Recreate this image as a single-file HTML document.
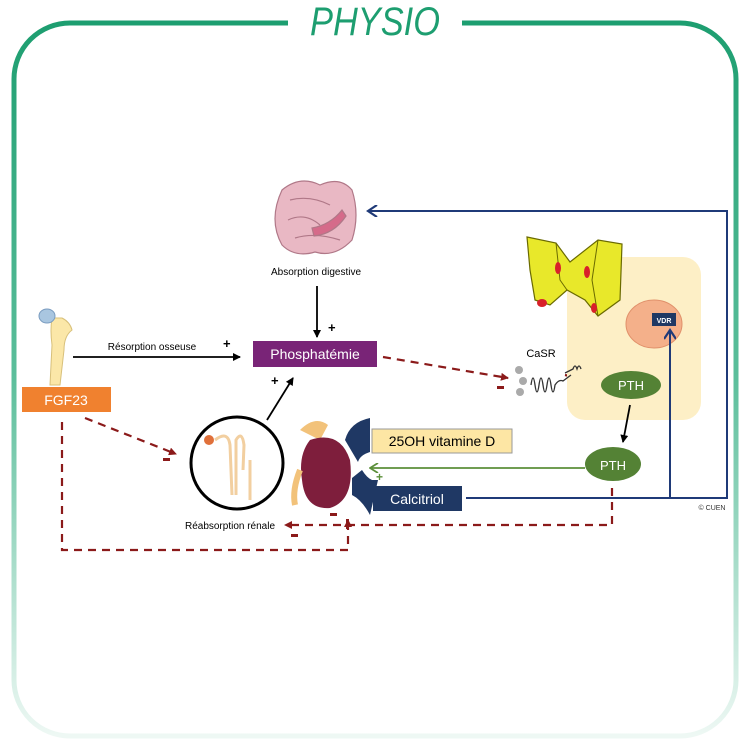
<!DOCTYPE html>
<html><head><meta charset="utf-8"><style>
html,body{margin:0;padding:0;background:#fff;}
svg{display:block;font-family:"Liberation Sans",sans-serif;}
</style></head><body>
<svg width="750" height="750" viewBox="0 0 750 750" xmlns="http://www.w3.org/2000/svg">
<defs>
<linearGradient id="fr" x1="0" y1="0" x2="0" y2="1" gradientUnits="objectBoundingBox">
<stop offset="0" stop-color="#1d9e70"/><stop offset="0.5" stop-color="#5cbf9c"/><stop offset="1" stop-color="#eef8f4"/>
</linearGradient>
<marker id="ak" markerWidth="8" markerHeight="8" refX="7" refY="4" orient="auto" markerUnits="userSpaceOnUse"><path d="M0,0 L8,4 L0,8 z" fill="#000"/></marker>
<marker id="ar" markerWidth="8" markerHeight="8" refX="7" refY="4" orient="auto" markerUnits="userSpaceOnUse"><path d="M0,0 L8,4 L0,8 z" fill="#8b1a1a"/></marker>
<marker id="ab" markerWidth="12" markerHeight="12" refX="10" refY="6" orient="auto" markerUnits="userSpaceOnUse"><path d="M1,0 L10,6 L1,12" fill="none" stroke="#1f3a78" stroke-width="2.2"/></marker>
<marker id="ag" markerWidth="10" markerHeight="10" refX="9" refY="5" orient="auto" markerUnits="userSpaceOnUse"><path d="M1,0 L9,5 L1,10" fill="none" stroke="#5b8f3a" stroke-width="1.8"/></marker>
</defs>
<!-- frame -->
<rect x="14" y="23" width="722" height="713" rx="56" fill="none" stroke="url(#fr)" stroke-width="5"/>
<rect x="288" y="10" width="174" height="28" fill="#fff"/>
<text x="375" y="35" text-anchor="middle" font-size="40" font-style="italic" fill="#1d9e70" textLength="130" lengthAdjust="spacingAndGlyphs">PHYSIO</text>

<!-- intestine -->
<g fill="#e9b8c4" stroke="#b07888" stroke-width="1.2">
<path d="M282,190 Q300,175 320,185 Q340,176 352,190 Q360,215 352,240 Q335,258 315,252 Q295,258 282,245 Q268,220 282,190z"/>
<path d="M290,200 Q310,195 330,205 M288,220 Q305,212 320,225 M295,238 Q315,232 340,240" fill="none"/>
<path d="M312,228 Q330,225 342,210 L346,216 Q334,234 314,236z" fill="#d56b8a"/>
</g>
<text x="316" y="275" text-anchor="middle" font-size="10">Absorption digestive</text>
<line x1="317" y1="286" x2="317" y2="337" stroke="#000" stroke-width="1.8" marker-end="url(#ak)"/>
<text x="328" y="332" font-size="13" font-weight="bold">+</text>

<rect x="253" y="341" width="124" height="26" fill="#792477"/>
<text x="315" y="359" text-anchor="middle" font-size="14" fill="#fff">Phosphatémie</text>

<!-- bone -->
<path d="M52,318 L62,318 Q70,322 72,330 Q64,336 64,350 L60,385 L50,385 L52,345 Q50,330 52,318z" fill="#fbe7a8" stroke="#d8c07a"/>
<ellipse cx="47" cy="316" rx="8" ry="7" fill="#a9c6e0" stroke="#7a9cc0"/>
<rect x="22" y="387" width="89" height="25" fill="#f0812f"/>
<text x="66" y="405" text-anchor="middle" font-size="14" fill="#fff">FGF23</text>

<text x="152" y="350" text-anchor="middle" font-size="10">Résorption osseuse</text>
<text x="223" y="348" font-size="13" font-weight="bold">+</text>
<line x1="73" y1="357" x2="240" y2="357" stroke="#000" stroke-width="1.8" marker-end="url(#ak)"/>

<circle cx="237" cy="463" r="46" fill="#fff" stroke="#000" stroke-width="3"/>
<circle cx="209" cy="440" r="5" fill="#e0703a"/>
<path d="M215,440 Q228,430 230,445 L232,495 M236,495 L236,440 Q242,430 244,445 L243,470 M250,460 L250,500" fill="none" stroke="#f2cfa0" stroke-width="3"/>
<line x1="267" y1="420" x2="293" y2="378" stroke="#000" stroke-width="1.8" marker-end="url(#ak)"/>
<text x="271" y="385" font-size="13" font-weight="bold">+</text>

<g stroke="#8b1a1a" stroke-width="2.2" stroke-dasharray="8,6" fill="none">
<line x1="85" y1="418" x2="176" y2="454" marker-end="url(#ar)"/>
<polyline points="62,422 62,550 348,550 348,520" marker-end="url(#ar)"/>
<line x1="383" y1="357" x2="508" y2="378" marker-end="url(#ar)"/>
<polyline points="612,488 612,525 285,525" marker-end="url(#ar)"/>
<line x1="565" y1="375" x2="597" y2="382" marker-end="url(#ar)"/>
<line x1="654" y1="336" x2="643" y2="355" stroke-dasharray="5,4" marker-end="url(#ar)"/>
</g>
<g fill="#8b1a1a">
<rect x="163" y="458" width="7" height="3"/>
<rect x="497" y="386" width="7" height="3"/>
<rect x="291" y="534" width="7" height="3"/>
<rect x="330" y="513" width="7" height="3"/>
<rect x="346" y="519" width="3" height="10"/>
<rect x="627" y="358" width="7" height="3"/>
<rect x="597" y="369" width="7" height="3"/>
</g>
<text x="230" y="529" text-anchor="middle" font-size="10">Réabsorption rénale</text>

<path d="M300,430 Q315,415 328,425 L320,440z" fill="#f2c27a"/>
<path d="M310,440 Q340,430 350,460 Q355,500 330,508 Q305,510 302,480 Q298,455 310,440z" fill="#7e1e3c"/>
<path d="M300,470 Q292,490 295,505" stroke="#f2c27a" stroke-width="6" fill="none"/>
<path d="M345,440 Q350,422 370,418 L370,452 Q360,455 358,462 z" fill="#1f3864"/>
<path d="M352,478 L362,470 Q367,478 372,480 L378,480 L370,515 Q362,500 352,495z" fill="#1f3864"/>

<rect x="372" y="429" width="140" height="24" fill="#fde6a4" stroke="#999"/>
<text x="442" y="446" text-anchor="middle" font-size="14">25OH vitamine D</text>
<line x1="585" y1="468" x2="370" y2="468" stroke="#5b8f3a" stroke-width="1.8" marker-end="url(#ag)"/>
<text x="376" y="481" font-size="12" font-weight="bold" fill="#5b8f3a">+</text>
<rect x="373" y="486" width="89" height="25" fill="#1f3864"/>
<text x="417" y="504" text-anchor="middle" font-size="14" fill="#fff">Calcitriol</text>

<rect x="567" y="257" width="134" height="163" rx="18" fill="#fdefc6"/>
<path d="M527,237 L556,243 L570,262 L598,240 L622,244 L620,300 L598,316 L585,300 L567,290 L550,305 L535,300 L530,270z" fill="#e8e82a" stroke="#6a6a00" stroke-width="1.2"/>
<path d="M556,243 L560,280 L567,290 M598,240 L592,280 L598,316" fill="none" stroke="#6a6a00"/>
<g fill="#d8202a"><ellipse cx="558" cy="268" rx="3" ry="6"/><ellipse cx="587" cy="272" rx="3" ry="6"/><ellipse cx="542" cy="303" rx="5" ry="4"/><ellipse cx="594" cy="308" rx="3" ry="5"/></g>
<ellipse cx="654" cy="324" rx="28" ry="24" fill="#f4b08a" stroke="#e0906a"/>
<rect x="652" y="313" width="24" height="13" fill="#1f3864"/>
<text x="664" y="323" text-anchor="middle" font-size="7" font-weight="bold" fill="#fff">VDR</text>

<text x="541" y="357" text-anchor="middle" font-size="11">CaSR</text>
<g fill="#aaa"><circle cx="519" cy="370" r="4"/><circle cx="523" cy="381" r="4"/><circle cx="520" cy="392" r="4"/></g>
<path d="M531,385 q2,-14 4,0 q2,14 4,0 q2,-14 4,0 q2,14 4,0 q2,-14 4,0 q2,14 4,0 q4,-6 8,-4 l8,-6 m-6,-2 l8,-4 q2,-6 4,0 q2,-6 4,0" fill="none" stroke="#333" stroke-width="1.3"/>

<ellipse cx="631" cy="385" rx="30" ry="14" fill="#548235"/>
<text x="631" y="390" text-anchor="middle" font-size="13" fill="#fff">PTH</text>
<line x1="630" y1="405" x2="623" y2="442" stroke="#000" stroke-width="1.8" marker-end="url(#ak)"/>
<ellipse cx="613" cy="464" rx="28" ry="17" fill="#548235"/>
<text x="613" y="470" text-anchor="middle" font-size="13" fill="#fff">PTH</text>

<polyline points="466,498 727,498 727,211 368,211" fill="none" stroke="#1f3a78" stroke-width="2" marker-end="url(#ab)"/>
<line x1="670" y1="498" x2="670" y2="330" stroke="#1f3a78" stroke-width="2" marker-end="url(#ab)"/>
<text x="712" y="510" text-anchor="middle" font-size="7" fill="#333">© CUEN</text>
</svg>
</body></html>
